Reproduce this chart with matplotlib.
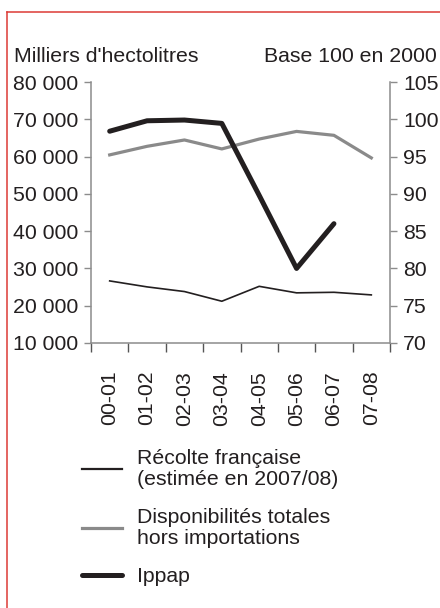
import matplotlib.pyplot as plt
from matplotlib.lines import Line2D
from matplotlib.ticker import FuncFormatter

plt.rcParams['font.family'] = ['Liberation Sans', 'DejaVu Sans']

campagnes = ['00-01', '01-02', '02-03', '03-04', '04-05', '05-06', '06-07', '07-08']
recolte = [26650, 25050, 23800, 21200, 25200, 23450, 23600, 22900]
disponibilites = [60450, 62750, 64450, 62050, 64700, 66750, 65700, 59650]
ippap = [98.4, 99.8, 99.9, 99.45, 89.8, 80.0, 86.0]

txt = '#231f20'
spine_c = '#8c8c8c'
fs = 15.3

fig = plt.figure(figsize=(4.4, 6.08), dpi=100)
W, H = 440, 608
ax = fig.add_axes([91 / W, 265 / H, 299 / W, 261 / H])
ax2 = ax.twinx()

x = [i + 0.5 for i in range(len(campagnes))]
l1, = ax.plot(x, recolte, color=txt, lw=1.2)
l2, = ax.plot(x, disponibilites, color='#8a8a8a', lw=2.3)
l3, = ax2.plot(x[:len(ippap)], ippap, color=txt, lw=3.6, solid_capstyle='round')

ax.set_xlim(0, 8)
ax.set_ylim(10000, 80000)
ax2.set_ylim(70, 105)
ax.set_yticks(range(10000, 80001, 10000))
ax2.set_yticks(range(70, 106, 5))
ax.yaxis.set_major_formatter(FuncFormatter(lambda v, p: f'{int(v):,}'.replace(',', ' ')))

ax.set_xticks(range(9))
ax.set_xticklabels([])
ax.set_xticks(x, minor=True)
ax.set_xticklabels(campagnes, minor=True, rotation=90, fontsize=fs, color=txt)
ax.tick_params(axis='x', which='major', direction='out', length=6.5, width=1, color='#555555')
ax.tick_params(axis='x', which='minor', length=0, pad=20)

for a in (ax, ax2):
    for s in a.spines.values():
        s.set_color(spine_c)
        s.set_linewidth(1.1)
    a.spines['top'].set_visible(False)
ax.spines['right'].set_visible(False)
ax2.spines['left'].set_visible(False)
ax2.spines['bottom'].set_visible(False)
ax.tick_params(axis='y', direction='out', length=5, width=1, color=spine_c, pad=4.3, labelsize=fs, labelcolor=txt)
ax2.tick_params(axis='y', direction='out', length=5, width=1, color=spine_c, pad=4.3, labelsize=fs, labelcolor=txt)

fig.text(14 / W, 1 - 56 / H, "Milliers d'hectolitres", fontsize=fs, color=txt, va='center', ha='left')
fig.text(437 / W, 1 - 56 / H, 'Base 100 en 2000', fontsize=fs, color=txt, va='center', ha='right')

leg = fig.legend([l1, l2, l3],
                 ['Récolte française\n(estimée en 2007/08)',
                  'Disponibilités totales\nhors importations', 'Ippap'],
                 loc='upper left', bbox_to_anchor=(82 / W, 1 - 448.5 / H), frameon=False,
                 borderaxespad=0, borderpad=0, handlelength=1.9, handletextpad=0.7,
                 labelspacing=0.9, fontsize=fs)
for t in leg.get_texts():
    t.set_color(txt)
    t.set_linespacing(1.15)
leg.get_lines()[0].set_linewidth(1.6)

# red frame
fig.add_artist(Line2D([6.5 / W, 6.5 / W], [0, 1 - 11.5 / H], transform=fig.transFigure, color='#dc3b36', lw=1.1))
fig.add_artist(Line2D([6.5 / W, 1], [1 - 11.5 / H, 1 - 11.5 / H], transform=fig.transFigure, color='#dc3b36', lw=1.1))

fig.savefig('out.png', dpi=100)
